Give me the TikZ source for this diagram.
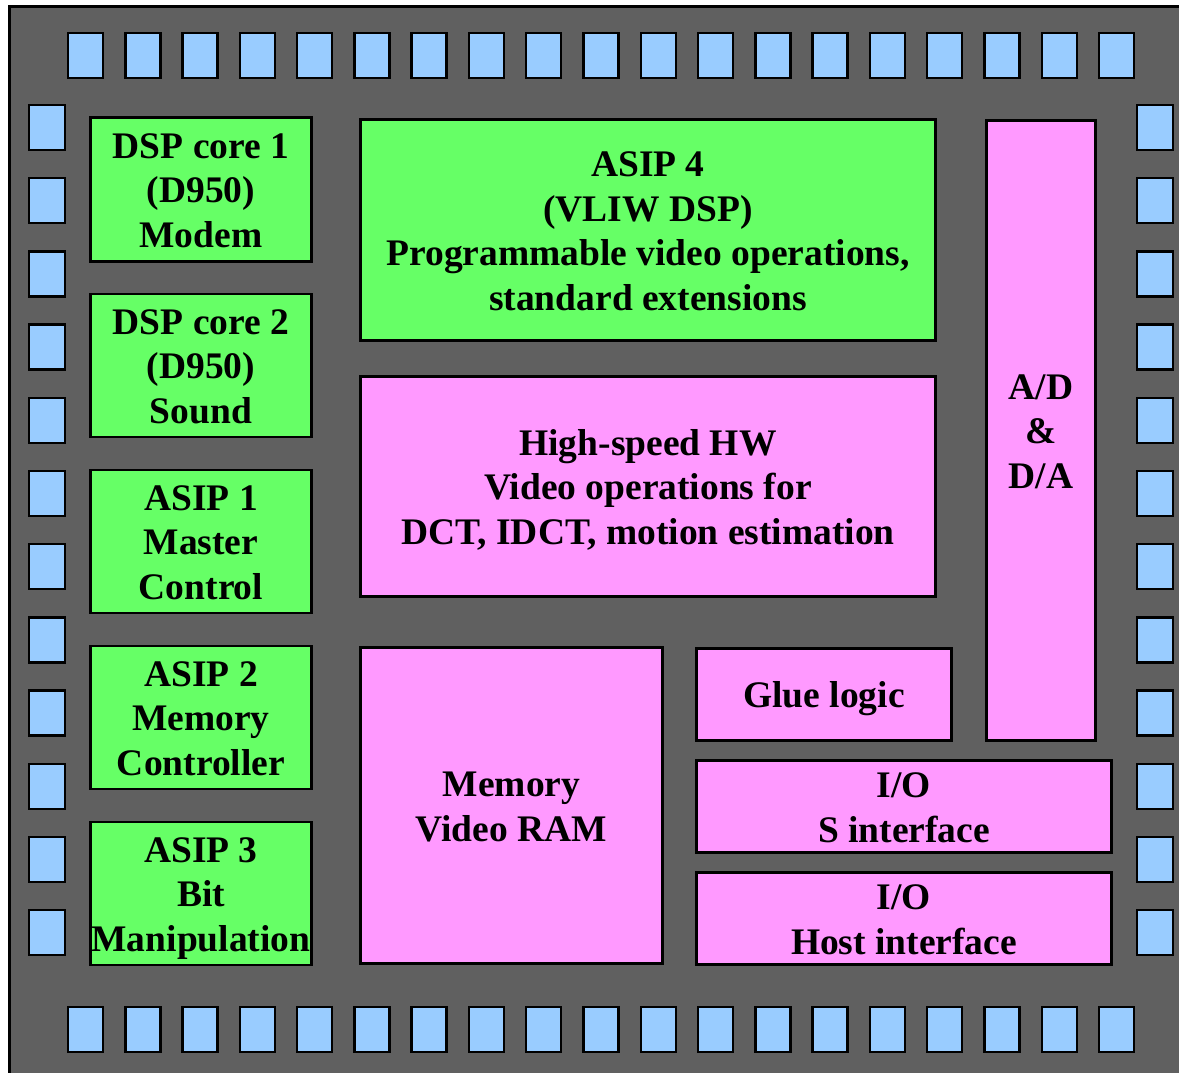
\documentclass[tikz,border=0pt]{standalone}
\usepackage{fontspec}
\setmainfont{Liberation Serif}
\definecolor{chipgray}{HTML}{606060}
\definecolor{coregreen}{HTML}{66FF66}
\definecolor{hwpink}{HTML}{FF99FF}
\definecolor{padblue}{HTML}{99CCFF}
% fixed-size strut so every text line sits on the same grid
\newcommand\lnstrut{\rule[-8.9pt]{0pt}{44.5pt}}
\tikzset{
  blk/.style={draw=black, line width=2.5pt, rectangle, inner sep=0pt,
    align=center, font=\bfseries\fontsize{37.5}{44.5}\selectfont},
  core/.style={blk, fill=coregreen},
  hw/.style={blk, fill=hwpink},
  pad/.style={draw=black, line width=2.5pt, fill=padblue, rectangle, inner sep=0pt,
    minimum height=45pt},
}
\begin{document}
\begin{tikzpicture}[x=1pt,y=-1pt]
\useasboundingbox (0,0) rectangle (1179,1073);
\begin{scope}
\clip (0,0) rectangle (1179,1073);
% die outline
\draw[fill=chipgray, line width=3pt] (9.5,6.5) rectangle (1200,1100);
\end{scope}
% bonding pads, top and bottom rows
\foreach \i in {0,...,18} {
  \node[pad, minimum width=35pt] (padT\i) at ({85.5+57.28*\i},55.5) {};
  \node[pad, minimum width=35pt] (padB\i) at ({85.5+57.28*\i},1029.5) {};
}
% bonding pads, left and right columns
\foreach \j in {0,...,11} {
  \node[pad, minimum width=36pt] (padL\j) at (47,{127.5+73.2*\j}) {};
  \node[pad, minimum width=36pt] (padR\j) at (1155,{127.5+73.2*\j}) {};
}
% processor cores
\node[core, minimum width=221pt, minimum height=144pt] (dsp1) at (201,189.5)
  {\lnstrut DSP core 1\\\lnstrut (D950)\\\lnstrut Modem};
\node[core, minimum width=221pt, minimum height=143pt] (dsp2) at (201,365.5)
  {\lnstrut DSP core 2\\\lnstrut (D950)\\\lnstrut Sound};
\node[core, minimum width=221pt, minimum height=143pt] (asip1) at (201,541.5)
  {\lnstrut ASIP 1\\\lnstrut Master\\\lnstrut Control};
\node[core, minimum width=221pt, minimum height=143pt] (asip2) at (201,717.5)
  {\lnstrut ASIP 2\\\lnstrut Memory\\\lnstrut Controller};
\node[core, minimum width=221pt, minimum height=143pt] (asip3) at (201,893.5)
  {\lnstrut ASIP 3\\\lnstrut Bit\\\lnstrut Manipulation};
\node[core, minimum width=575pt, minimum height=221pt] (asip4) at (648,230)
  {\lnstrut ASIP 4\\\lnstrut (VLIW DSP)\\\lnstrut Programmable video operations,\\\lnstrut standard extensions};
% dedicated hardware
\node[hw, minimum width=575pt, minimum height=220pt] (hshw) at (648,486.5)
  {\lnstrut High-speed HW\\\lnstrut Video operations for\\\lnstrut DCT, IDCT, motion estimation};
\node[hw, minimum width=302pt, minimum height=316pt] (mem) at (511.5,805.5)
  {\lnstrut Memory\\\lnstrut Video RAM};
\node[hw, minimum width=255pt, minimum height=92pt] (glue) at (824,694.5)
  {\lnstrut Glue logic};
\node[hw, minimum width=109pt, minimum height=620pt] (adda) at (1041,430.5)
  {\lnstrut A/D\\\lnstrut \&\\\lnstrut D/A};
\node[hw, minimum width=415pt, minimum height=92pt] (ios) at (904,806.5)
  {\lnstrut I/O\\\lnstrut S interface};
\node[hw, minimum width=415pt, minimum height=92pt] (ioh) at (904,918.5)
  {\lnstrut I/O\\\lnstrut Host interface};
\end{tikzpicture}
\end{document}
